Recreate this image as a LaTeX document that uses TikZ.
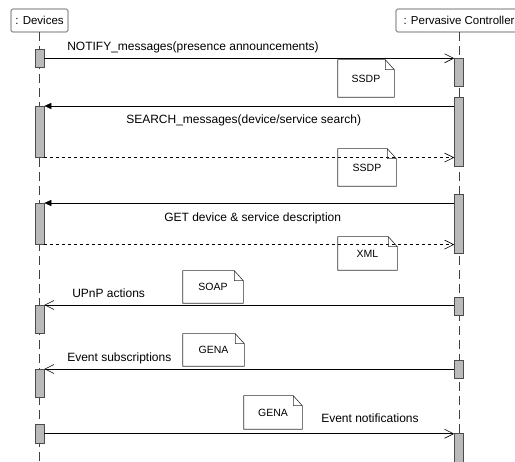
\documentclass[tikz,border=0pt]{standalone}
\usepackage{fontspec}
\setmainfont{Liberation Sans}
\usetikzlibrary{arrows.meta}

\tikzset{
  obj/.style={draw=black!75, rounded corners=1.5pt, minimum height=23pt, inner sep=2pt, font=\fontsize{11.5}{13}\selectfont},
  act/.style={draw=black!70, fill=black!27, minimum width=9pt, inner sep=0pt, anchor=north},
  life/.style={draw=black!75, dash pattern=on 9pt off 5pt},
  msg/.style={-{Straight Barb[length=9pt,width=9pt]}},
  call/.style={-{Triangle[length=7pt,width=6pt]}},
  reply/.style={msg, dashed},
  lbl/.style={anchor=base west, inner sep=0pt, font=\fontsize{12}{14}\selectfont},
  note/.style={inner sep=0pt, font=\fontsize{10.5}{12}\selectfont}
}

\begin{document}
\begin{tikzpicture}[x=1pt, y=-1pt, line width=0.6pt]
  \useasboundingbox (0,0) rectangle (515,462);
  % objects and lifelines
  \node[obj, minimum width=57pt] (dev) at (39.5,20.5) {: Devices};
  \node[obj, minimum width=126pt] (ctrl) at (459,20.5) {: Pervasive Controller};
  \coordinate (devend) at (39.5,462);
  \coordinate (ctrlend) at (459,462);
  \draw[life] (dev) -- (devend);
  \draw[life] (ctrl) -- (ctrlend);

  % activations
  \node[act, minimum height=18pt] (d1) at (39.5,49) {};
  \node[act, minimum height=51pt] (d2) at (39.5,106) {};
  \node[act, minimum height=41pt] (d3) at (39.5,203) {};
  \node[act, minimum height=28pt] (d4) at (39.5,305) {};
  \node[act, minimum height=28pt] (d5) at (39.5,369) {};
  \node[act, minimum height=19pt] (d6) at (39.5,424) {};
  \node[act, minimum height=28pt] (c1) at (459,58) {};
  \node[act, minimum height=69pt] (c2) at (459,97) {};
  \node[act, minimum height=59pt] (c3) at (459,194) {};
  \node[act, minimum height=18pt] (c4) at (459,297) {};
  \node[act, minimum height=18pt] (c5) at (459,360) {};
  \node[act, minimum height=35pt] (c6) at (459,433) {};

  % messages
  \draw[msg] (d1.east) -- (d1.east -| c1.west);
  \draw[call] (d2.north east -| c2.west) -- (d2.north east);
  \draw[reply] (d2.south east) -- (d2.south east -| c2.west);
  \draw[call] (d3.north east -| c3.west) -- (d3.north east);
  \draw[reply] (d3.south east) -- (d3.south east -| c3.west);
  \draw[msg] (d4.north east -| c4.west) -- (d4.north east);
  \draw[msg] (d5.north east -| c5.west) -- (d5.north east);
  \draw[msg] (d6.east) -- (d6.east -| c6.west);

  \node[lbl] (notify) at (67,51) {NOTIFY\_messages(presence announcements)};
  \node[lbl] (search) at (126,124) {SEARCH\_messages(device/service search)};
  \node[lbl] (get) at (164,222) {GET device \& service description};
  \node[lbl] (upnp) at (72,298) {UPnP actions};
  \node[lbl] (esub) at (67,362) {Event subscriptions};
  \node[lbl] (enot) at (321,423) {Event notifications};

  % notes
  \node[note, minimum width=56pt, minimum height=37pt] (ssdpa) at (366,78.5) {SSDP};
  \node[note, minimum width=58pt, minimum height=37pt] (ssdpb) at (367,167.5) {SSDP};
  \node[note, minimum width=59pt, minimum height=33pt] (xml) at (367.5,253.5) {XML};
  \node[note, minimum width=60pt, minimum height=32pt] (soap) at (213,287) {SOAP};
  \node[note, minimum width=61pt, minimum height=32pt] (genaa) at (213.5,350) {GENA};
  \node[note, minimum width=58pt, minimum height=33pt] (genab) at (273,412.5) {GENA};
  \foreach \n in {ssdpa,ssdpb,xml,soap,genaa,genab}
    \draw[black!80] (\n.south west) -- (\n.north west) -- ([xshift=-9pt]\n.north east)
      -- ([yshift=-10pt]\n.north east) -- (\n.south east) -- cycle
      ([xshift=-9pt]\n.north east) |- ([yshift=-10pt]\n.north east);
\end{tikzpicture}
\end{document}
